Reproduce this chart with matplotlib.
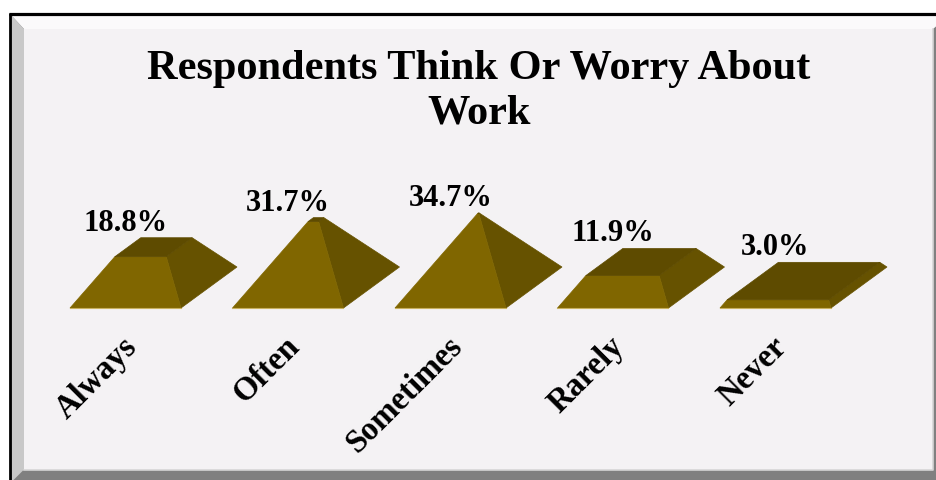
import matplotlib
matplotlib.use('Agg')
import matplotlib.pyplot as plt
from matplotlib.patches import Polygon, Rectangle
from matplotlib.lines import Line2D

# ---------------- data ----------------
categories = ['Always', 'Often', 'Sometimes', 'Rarely', 'Never']
values = [18.8, 31.7, 34.7, 11.9, 3.0]
value_labels = ['18.8%', '31.7%', '34.7%', '11.9%', '3.0%']
title_lines = ['Respondents Think Or Worry About', 'Work']
scale_max = 35.0

# ---------------- figure ----------------
W, H = 937, 481
fig = plt.figure(figsize=(W / 100, H / 100), dpi=100)
fig.patch.set_facecolor('white')
FONT = ['Liberation Serif', 'DejaVu Serif']

# decorative bevelled panel (pixel coordinates)
bg = fig.add_axes([0, 0, 1, 1])
bg.set_xlim(0, W)
bg.set_ylim(H, 0)
bg.axis('off')
bg.add_patch(Rectangle((11.5, 16.5), W, H, facecolor='#808080', edgecolor='none'))
bg.add_patch(Polygon([(11.5, 16.5), (W + 12, 16.5), (933, 30), (24, 30)],
                     closed=True, facecolor='#fbfafb', edgecolor='none'))
bg.add_patch(Polygon([(11.5, 16.5), (24, 30), (24, 470.5), (11.5, 483)],
                     closed=True, facecolor='#c8c8c8', edgecolor='none'))
bg.add_patch(Rectangle((24, 30), 909, 440.5, facecolor='#f4f2f4', edgecolor='none'))
bg.add_line(Line2D([24, 933, 933], [470.8, 470.8, 30], color='#d6d6d6', lw=1.2))
bg.add_line(Line2D([9, W], [15, 15], color='black', lw=2.3, solid_capstyle='butt'))
bg.add_line(Line2D([10.4, 10.4], [13.5, H], color='black', lw=2.0, solid_capstyle='butt'))

# ---------------- main data axes ----------------
slot_px = 162.5        # pixel distance between categories
first_px = 125.5       # pixel x of first category front centre
base_px = 309.0        # pixel y of front base edge
ppu = 75.0 / scale_max # pixels per value unit (full pyramid height 75 px)

ax = fig.add_axes([0, 0, 1, 1], facecolor='none')
ax.set_xlim((0 - first_px) / slot_px, (W - first_px) / slot_px)
ax.set_ylim((base_px - H) / ppu, (base_px - 0) / ppu)
ax.axis('off')

w = 111.0 / slot_px       # front base width
ddx = 56.0 / slot_px      # depth shift in x
ddy = 41.0 / ppu          # depth shift in y

c_front = '#806600'
c_right = '#665200'
c_top = '#5e4b00'

for i, v in enumerate(values):
    f = v / scale_max
    FL = (i - w / 2, 0.0)
    FR = (i + w / 2, 0.0)
    BR = (i + w / 2 + ddx, ddy)
    BL = (i - w / 2 + ddx, ddy)
    cx, cy = i + ddx / 2, ddy / 2

    def top(p):
        return (cx + (1 - f) * (p[0] - cx), cy + (1 - f) * (p[1] - cy) + v)

    tFL, tFR, tBR, tBL = top(FL), top(FR), top(BR), top(BL)
    ax.add_patch(Polygon([FR, BR, tBR, tFR], closed=True, facecolor=c_right,
                         edgecolor=c_right, lw=0.5, zorder=2))
    ax.add_patch(Polygon([FL, FR, tFR, tFL], closed=True, facecolor=c_front,
                         edgecolor=c_front, lw=0.5, zorder=3))
    if f < 0.999:
        ax.add_patch(Polygon([tFL, tFR, tBR, tBL], closed=True, facecolor=c_top,
                             edgecolor=c_top, lw=0.5, zorder=4))
    ax.add_line(Line2D([FL[0], FR[0]], [0, 0], color='#c8b060', lw=0.8, zorder=5))

    # value label
    ax.text(i, tBR[1] + 8.0 / ppu, value_labels[i], ha='center', va='baseline',
            fontsize=22, fontweight='bold', family=FONT, color='black', zorder=6)

    # category label
    ax.text(i - 4.0 / slot_px, -(331 - base_px) / ppu, categories[i],
            rotation=45, rotation_mode='anchor', ha='right', va='top',
            fontsize=23.5, fontweight='bold', family=FONT, color='black', zorder=6)

# ---------------- title ----------------
fig.text(479 / W, 1 - 79 / H, title_lines[0], ha='center', va='baseline',
         fontsize=30.5, fontweight='bold', family=FONT, color='black')
fig.text(479 / W, 1 - 124 / H, title_lines[1], ha='center', va='baseline',
         fontsize=30.5, fontweight='bold', family=FONT, color='black')

fig.savefig('out.png', dpi=100)
